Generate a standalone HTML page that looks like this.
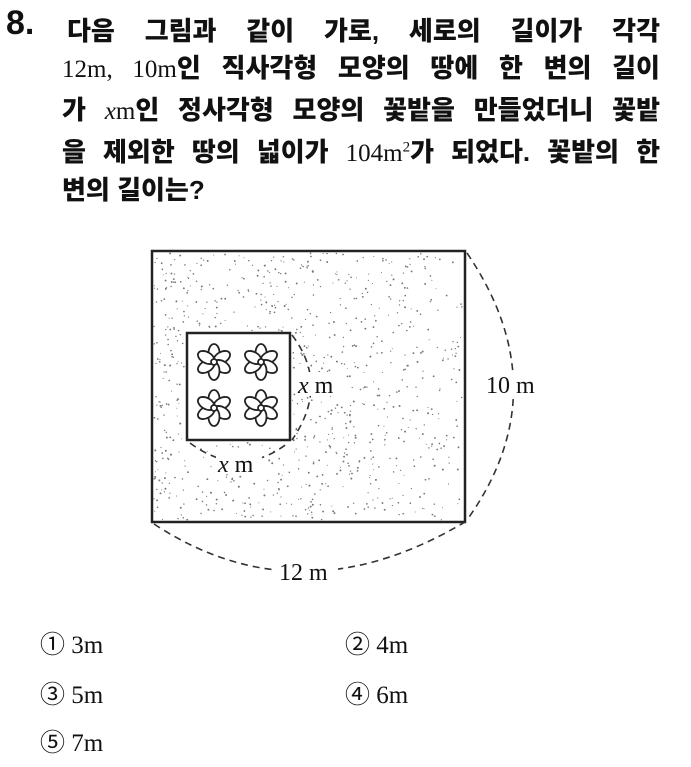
<!DOCTYPE html>
<html><head><meta charset="utf-8"><style>
body{margin:0;width:691px;height:767px;background:#fff;position:relative;overflow:hidden;font-family:"Liberation Sans","Noto Sans CJK KR",sans-serif;color:#111}
.num{position:absolute;left:6px;top:4px;font-size:34px;font-weight:bold}
.l{position:absolute;left:62px;width:598px;font-size:26px;font-weight:900;text-align-last:justify;text-align:justify;white-space:nowrap;letter-spacing:0}
.m{font-family:"Liberation Serif",serif;font-weight:normal;font-size:25px}
.o{position:absolute;font-family:"Liberation Serif","Noto Sans CJK KR",serif;font-size:25px}
</style></head><body>
<div class="num">8.</div>
<div class="l" style="left:67px;width:593px;top:11px">다음 그림과 같이 가로, 세로의 길이가 각각</div>
<div class="l" style="top:48px"><span class="m">12m, 10m</span>인 직사각형 모양의 땅에 한 변의 길이</div>
<div class="l" style="top:90px">가 <span class="m"><i>x</i>m</span>인 정사각형 모양의 꽃밭을 만들었더니 꽃밭</div>
<div class="l" style="top:132px">을 제외한 땅의 넓이가 <span class="m">104m<sup style="font-size:15px">2</sup></span>가 되었다. 꽃밭의 한</div>
<div class="l" style="top:170px;text-align-last:left">변의 길이는?</div>
<svg id="s" style="position:absolute;left:0;top:0" width="691" height="767">
<g id="dots" fill="#777"></g>
<rect x="152" y="251" width="313" height="271" fill="none" stroke="#222" stroke-width="2.5"/>
<rect x="187" y="333" width="103" height="107" fill="#fff" stroke="#222" stroke-width="2.5"/>
<g fill="none" stroke="#333" stroke-width="1.6" stroke-dasharray="7,5">
<path d="M292 335 Q330 385 292 440"/>
<path d="M190 443 Q240 480 288 443"/>
<path d="M467 253 Q560 390 467 520"/>
<path d="M154 524 Q300 620 465 522"/>
</g>
<g id="fl" fill="#fff" stroke="#222" stroke-width="1.8"></g>
<g font-family="Liberation Serif,serif" font-size="24" fill="#111">
<rect x="298" y="372" width="48" height="24" fill="#fff"/>
<text x="298" y="393"><tspan font-style="italic">x</tspan> m</text>
<rect x="484" y="372" width="56" height="24" fill="#fff"/>
<text x="486" y="393">10 m</text>
<rect x="216" y="450" width="46" height="24" fill="#fff"/>
<text x="218" y="472"><tspan font-style="italic">x</tspan> m</text>
<rect x="276" y="558" width="62" height="24" fill="#fff"/>
<text x="279" y="580">12 m</text>
</g>
</svg>
<div class="o" style="left:40px;top:625px">① 3m</div>
<div class="o" style="left:345px;top:625px">② 4m</div>
<div class="o" style="left:40px;top:675px">③ 5m</div>
<div class="o" style="left:345px;top:675px">④ 6m</div>
<div class="o" style="left:40px;top:723px">⑤ 7m</div>
<script>
var ns="http://www.w3.org/2000/svg",g=document.getElementById("dots"),seed=7;
function r(){seed=(seed*16807)%2147483647;return seed/2147483647;}
for(var i=0;i<1300;i++){var x=154+r()*309,y=253+r()*267;
 var dens=1-(x-154)/500; if(r()>dens+0.15)continue;
 if(x>185&&x<292&&y>331&&y<442)continue;
 var c=document.createElementNS(ns,"circle");c.setAttribute("cx",x);c.setAttribute("cy",y);c.setAttribute("r",0.5+r()*0.5);g.appendChild(c);}
var f=document.getElementById("fl");
[[214,362],[261,362],[214,408],[261,408]].forEach(function(p){
 for(var k=0;k<6;k++){var e=document.createElementNS(ns,"ellipse");
 e.setAttribute("cx",p[0]);e.setAttribute("cy",p[1]-9);e.setAttribute("rx",5.5);e.setAttribute("ry",9);
 e.setAttribute("transform","rotate("+(k*60)+" "+p[0]+" "+p[1]+")");f.appendChild(e);}
 var c=document.createElementNS(ns,"circle");c.setAttribute("cx",p[0]);c.setAttribute("cy",p[1]);c.setAttribute("r",3);f.appendChild(c);});
</script>
</body></html>
